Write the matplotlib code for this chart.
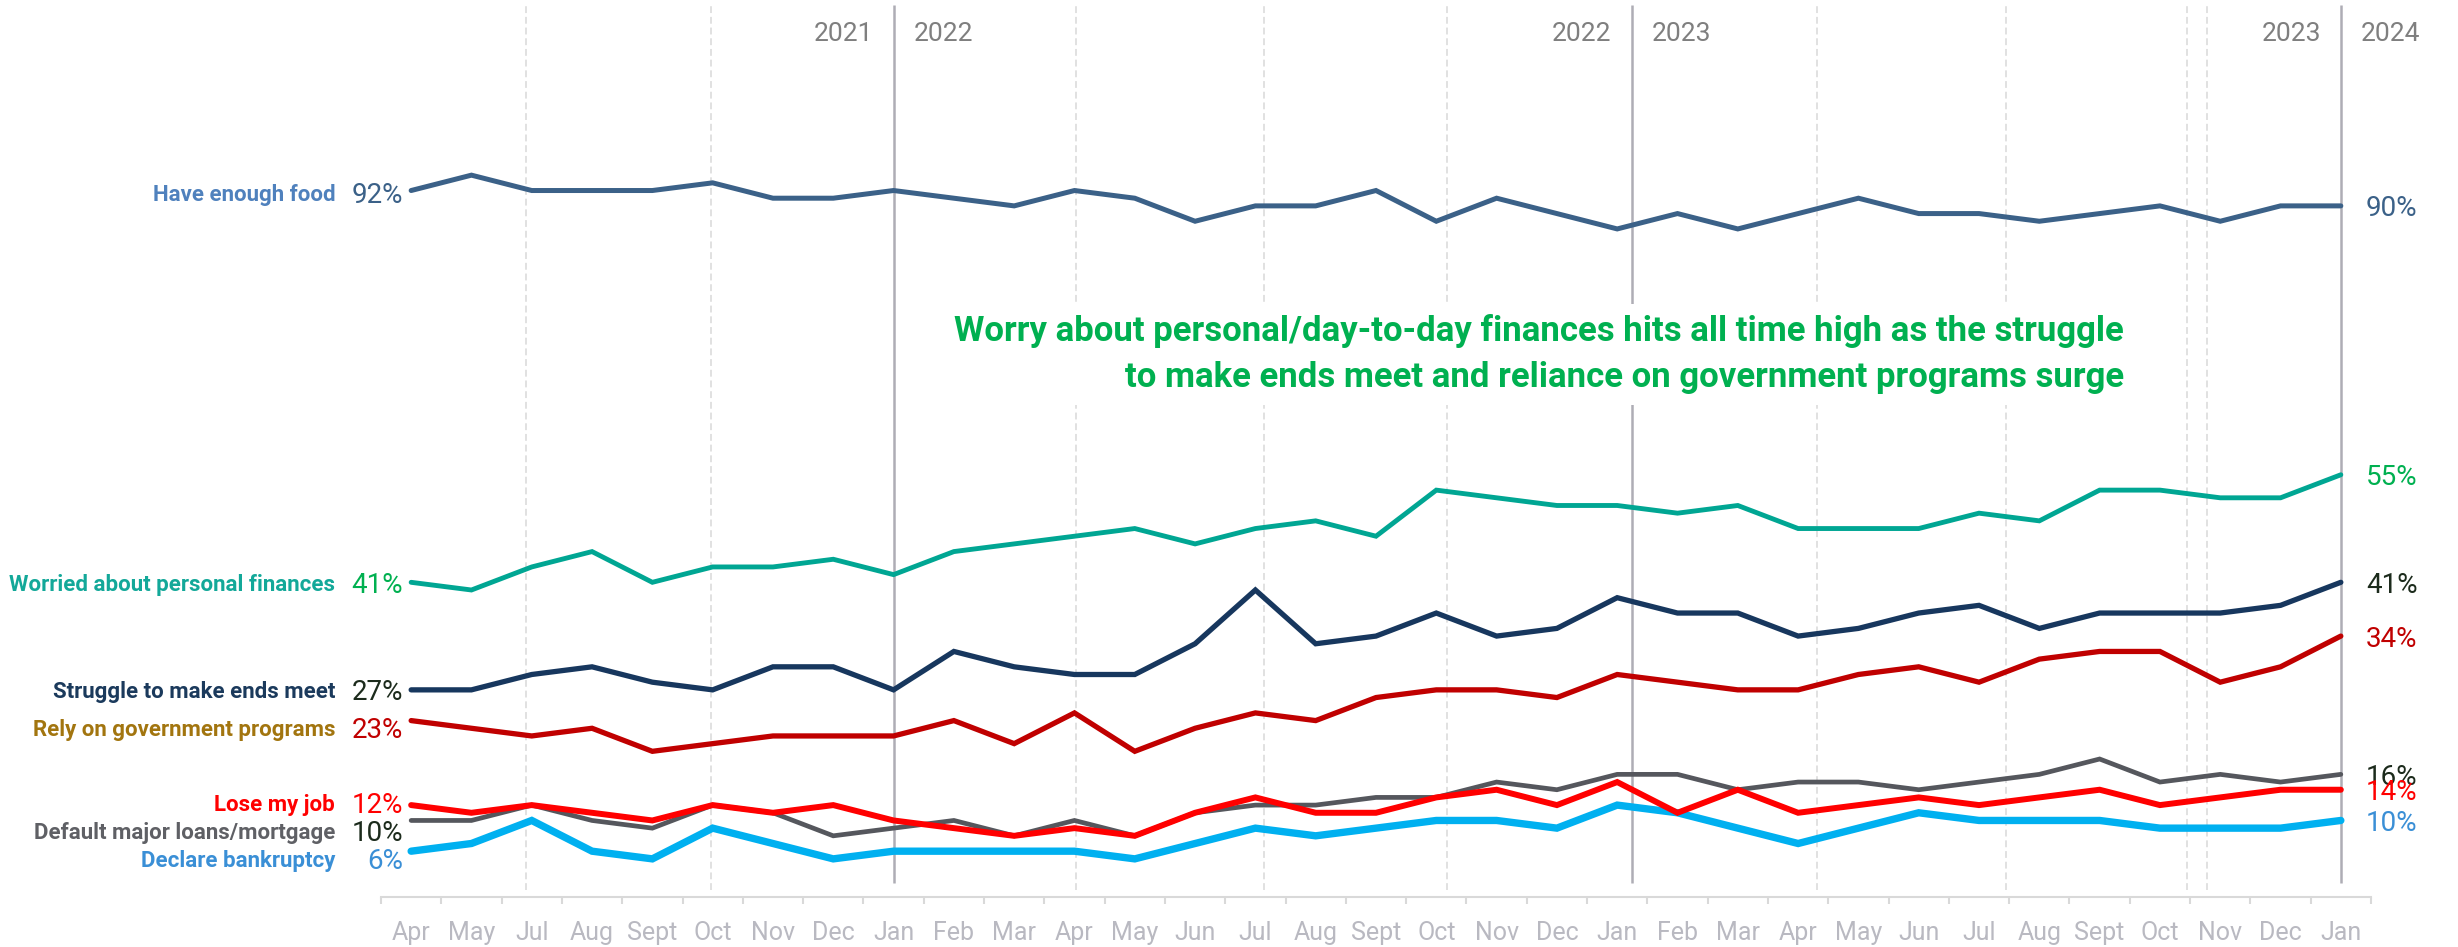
import numpy as np
import matplotlib
matplotlib.use('Agg')
from matplotlib import pyplot as plt, font_manager

# survey waves, Apr 2021 .. Jan 2024 (no June 2021 wave)
MONTHS = ['Apr', 'May', 'Jul', 'Aug', 'Sept', 'Oct', 'Nov', 'Dec',
          'Jan', 'Feb', 'Mar', 'Apr', 'May', 'Jun', 'Jul', 'Aug', 'Sept', 'Oct', 'Nov', 'Dec',
          'Jan', 'Feb', 'Mar', 'Apr', 'May', 'Jun', 'Jul', 'Aug', 'Sept', 'Oct', 'Nov', 'Dec',
          'Jan']

FOOD = [92, 94, 92, 92, 92, 93, 91, 91, 92, 91, 90, 92, 91, 88, 90, 90, 92, 88, 91, 89,
        87, 89, 87, 89, 91, 89, 89, 88, 89, 90, 88, 90, 90]
WORRIED = [41, 40, 43, 45, 41, 43, 43, 44, 42, 45, 46, 47, 48, 46, 48, 49, 47, 53, 52, 51,
           51, 50, 51, 48, 48, 48, 50, 49, 53, 53, 52, 52, 55]
STRUGGLE = [27, 27, 29, 30, 28, 27, 30, 30, 27, 32, 30, 29, 29, 33, 40, 33, 34, 37, 34, 35,
            39, 37, 37, 34, 35, 37, 38, 35, 37, 37, 37, 38, 41]
RELY = [23, 22, 21, 22, 19, 20, 21, 21, 21, 23, 20, 24, 19, 22, 24, 23, 26, 27, 27, 26,
        29, 28, 27, 27, 29, 30, 28, 31, 32, 32, 28, 30, 34]
LOSE_JOB = [12, 11, 12, 11, 10, 12, 11, 12, 10, 9, 8, 9, 8, 11, 13, 11, 11, 13, 14, 12,
            15, 11, 14, 11, 12, 13, 12, 13, 14, 12, 13, 14, 14]
DEFAULT = [10, 10, 12, 10, 9, 12, 11, 8, 9, 10, 8, 10, 8, 11, 12, 12, 13, 13, 15, 14,
           16, 16, 14, 15, 15, 14, 15, 16, 18, 15, 16, 15, 16]
BANKRUPT = [6, 7, 10, 6, 5, 9, 7, 5, 6, 6, 6, 6, 5, 7, 9, 8, 9, 10, 10, 9,
            12, 11, 9, 7, 9, 11, 10, 10, 10, 9, 9, 9, 10]

SERIES = [
    ('Have enough food', FOOD),
    ('Worried about personal finances', WORRIED),
    ('Struggle to make ends meet', STRUGGLE),
    ('Rely on government programs', RELY),
    ('Declare bankruptcy', BANKRUPT),
    ('Default major loans/mortgage', DEFAULT),
    ('Lose my job', LOSE_JOB),
]

YEAR_BREAKS = [(8.0, '2021', '2022'), (20.24, '2022', '2023'), (32.0, '2023', '2024')]
QUARTER_GUIDES = [1.91, 4.97, 11.02, 14.14, 17.17, 23.32, 26.44, 29.45, 29.78]

HEADLINE = ('Worry about personal/day-to-day finances hits all time high as the struggle\n'
            'to make ends meet and reliance on government programs surge')

# line colour, label colour, value colour, line width, label nudge (px)
STYLE = {
    'Have enough food': ('#3b6188', '#4f81bd', '#3b6188', 3.6, -2),
    'Worried about personal finances': ('#00a693', '#13a899', '#00b050', 3.5, 0),
    'Struggle to make ends meet': ('#17375e', '#1b3a5c', '#1c2b1c', 3.8, 0),
    'Rely on government programs': ('#c00000', '#a2750f', '#c00000', 3.8, -7),
    'Declare bankruptcy': ('#00b0f0', '#3a8fd6', '#3a8fd6', 5.3, -7),
    'Default major loans/mortgage': ('#55575d', '#5f6065', '#1c2b1c', 3.4, -10),
    'Lose my job': ('#ff0000', '#ff0000', '#ff0000', 4.3, 3),
}


def pick_family(candidates):
    '''First installed family that has both a regular and a bold face'''
    fonts = font_manager.fontManager.ttflist
    for name in candidates:
        weights = set()
        for f in fonts:
            if f.name == name:
                w = f.weight
                if not isinstance(w, int):
                    w = font_manager.weight_dict.get(w, 400)
                weights.add(w)
        if 400 in weights and 700 in weights:
            return name
    return 'DejaVu Sans'


def draw_guides(ax):
    for x in QUARTER_GUIDES:
        ax.vlines(x, 1.0, 116.2, color='#d9d9d9', linewidth=1.1,
                  linestyles=(0, (4.5, 2.5)), zorder=1)
    for x, left, right in YEAR_BREAKS:
        ax.vlines(x, 1.9, 116.2, color='#aeadb5', linewidth=1.8, zorder=1)
        ax.annotate(left, xy=(x, 112.7), xytext=(-20, 0), textcoords='offset pixels',
                    ha='right', va='center_baseline', fontsize=19, color='#7f7f7f')
        ax.annotate(right, xy=(x, 112.7), xytext=(20, 0), textcoords='offset pixels',
                    ha='left', va='center_baseline', fontsize=19, color='#7f7f7f')


def draw_series(ax):
    x = np.arange(len(MONTHS))
    for name, values in SERIES:
        line_c, label_c, value_c, lw, dy = STYLE[name]
        ax.plot(x, values, color=line_c, linewidth=lw, solid_capstyle='round',
                solid_joinstyle='miter', zorder=3)
        ax.annotate(name, xy=(0, values[0]), xytext=(-76, dy), textcoords='offset pixels',
                    ha='right', va='center_baseline', fontsize=16, fontweight='bold',
                    color=label_c)
        ax.annotate(f'{values[0]}%', xy=(0, values[0]), xytext=(-8, dy),
                    textcoords='offset pixels', ha='right', va='center_baseline',
                    fontsize=20, color=value_c)
        ax.annotate(f'{values[-1]}%', xy=(x[-1], values[-1]), xytext=(25, 0),
                    textcoords='offset pixels', ha='left', va='center_baseline',
                    fontsize=20, color=value_c)


def main():
    family = pick_family(['Roboto', 'Lato', 'Open Sans', 'Liberation Sans', 'DejaVu Sans'])
    plt.rcParams['font.family'] = [family, 'DejaVu Sans']

    fig = plt.figure(figsize=(24.58, 9.47), dpi=100)
    ax = fig.add_axes([0.1550, 0.0525, 0.8096, 0.9475])

    draw_guides(ax)
    draw_series(ax)

    ax.text(28.4, 70.7, HEADLINE, ha='right', va='center', multialignment='right',
            fontsize=25, fontweight='bold', color='#00b050', linespacing=1.5, zorder=4,
            bbox=dict(boxstyle='square,pad=0.3', facecolor='white', edgecolor='none'))

    ax.set_xlim(-0.5, len(MONTHS) - 0.5)
    ax.set_ylim(0, 116.8)
    ax.set_xticks(range(len(MONTHS)))
    ax.set_xticklabels(MONTHS)
    ax.set_xticks(np.arange(-0.5, len(MONTHS), 1), minor=True)
    ax.tick_params(axis='x', which='major', length=0, pad=17, labelsize=18,
                   labelcolor='#b9b9c1')
    ax.tick_params(axis='x', which='minor', length=5, width=1.5, color='#d9d9d9')
    ax.set_yticks([])
    for side in ['left', 'right', 'top']:
        ax.spines[side].set_visible(False)
    ax.spines['bottom'].set_color('#d9d9d9')
    ax.spines['bottom'].set_linewidth(1.5)

    fig.savefig('out.png', dpi=100, facecolor='white')


if __name__ == '__main__':
    main()
